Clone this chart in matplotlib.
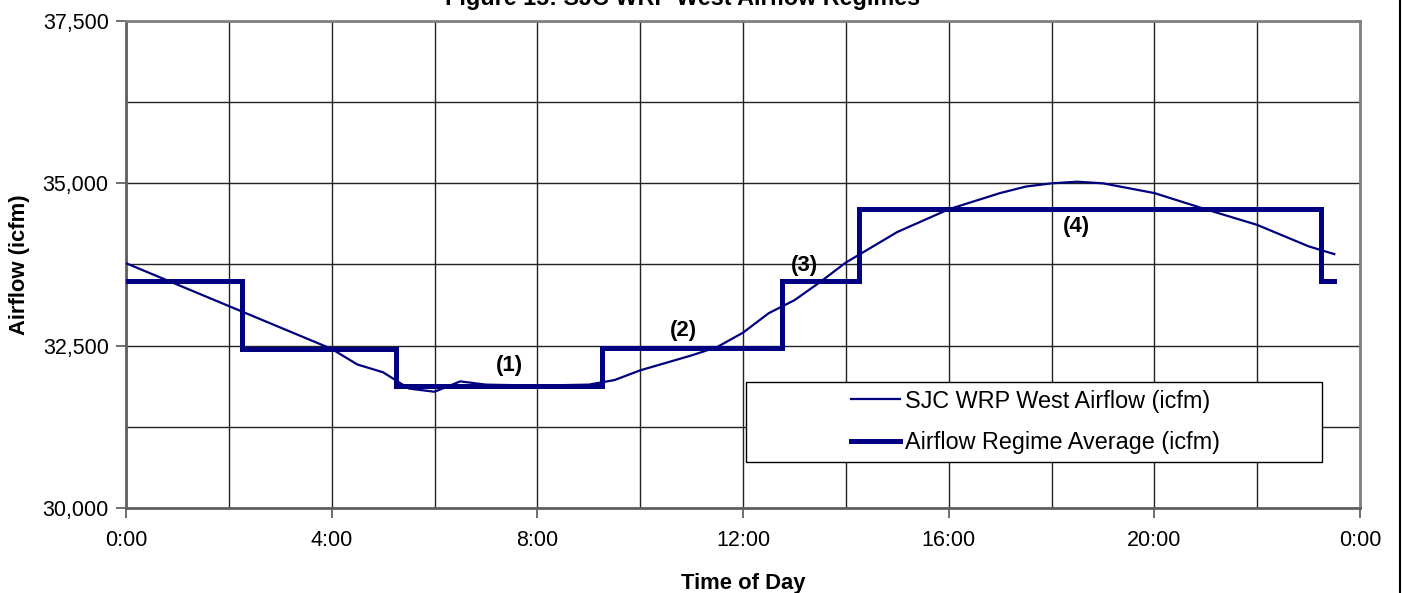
import numpy as np
import matplotlib
matplotlib.use("Agg")
import matplotlib.pyplot as plt
from matplotlib.ticker import MultipleLocator, FuncFormatter
from matplotlib.patches import Rectangle
from matplotlib.lines import Line2D

plt.rcParams['font.family'] = ['Liberation Sans', 'DejaVu Sans']

# measured airflow (hours of day, icfm)
flow_hours = [0, 1, 2, 3, 4, 4.5, 5, 5.5, 6, 6.5, 7, 8, 9, 9.5, 10, 11, 11.5, 12,
              12.5, 13, 13.5, 14, 15, 16, 17, 17.5, 18, 18.5, 19, 20, 21, 22, 23, 23.5]
flow_vals = [33770, 33440, 33110, 32780, 32450, 32210, 32090, 31840, 31790, 31950,
             31900, 31885, 31900, 31970, 32120, 32350, 32480, 32700, 33000, 33200,
             33480, 33780, 34250, 34600, 34850, 34950, 35000, 35025, 35000, 34850,
             34600, 34360, 34030, 33910]

# regime averages, step starts
regime_hours = [0, 2.25, 5.25, 9.25, 12.75, 14.25, 23.25, 23.5]
regime_vals = [33500, 32450, 31880, 32460, 33500, 34600, 33500, 33500]

# regime labels
label_text = ["(1)", "(2)", "(3)", "(4)"]
label_hours = [7.46, 10.84, 13.2, 18.49]
label_vals = [32190, 32740, 33740, 34340]

navy = '#000080'

fig = plt.figure(figsize=(14.02, 5.93), dpi=100)
ax = fig.add_axes([126 / 1402, 1 - 508 / 593, 1234 / 1402, 487 / 593])

ax.plot(flow_hours, flow_vals, color=navy, lw=1.6, label="SJC WRP West Airflow (icfm)", zorder=3)
ax.step(regime_hours, regime_vals, where='post', color=navy, lw=3.6,
        solid_joinstyle='miter', label="Airflow Regime Average (icfm)", zorder=4)

for t, h, v in zip(label_text, label_hours, label_vals):
    ax.text(h, v, t, ha='center', va='center', fontsize=16, fontweight='bold', zorder=5)

ax.set_xlim(0, 24)
ax.set_ylim(30000, 37500)
ax.xaxis.set_major_locator(MultipleLocator(4))
ax.xaxis.set_minor_locator(MultipleLocator(2))
ax.yaxis.set_major_locator(MultipleLocator(2500))
ax.yaxis.set_minor_locator(MultipleLocator(1250))
ax.xaxis.set_major_formatter(FuncFormatter(lambda h, p: f"{int(round(h)) % 24}:00"))
ax.yaxis.set_major_formatter(FuncFormatter(lambda v, p: f"{int(v):,}"))
ax.tick_params(which='major', direction='out', length=7, width=1.2, color='#555555',
               labelsize=15.5)
ax.tick_params(axis='x', which='major', pad=9)
ax.tick_params(axis='y', which='major', pad=5.5)
ax.tick_params(which='minor', length=0)
ax.grid(which='both', color='#222222', lw=1.0, zorder=1)
ax.set_axisbelow(True)
for s in ax.spines.values():
    s.set_color('#808080')
    s.set_linewidth(2)
ax.spines['left'].set_color('#606060')
ax.spines['bottom'].set_color('#606060')

ax.set_xlabel("Time of Day", fontsize=15.8, fontweight='bold', labelpad=16)
ax.set_ylabel("Airflow (icfm)", fontsize=15.8, fontweight='bold', labelpad=9)

# legend box
ax.add_patch(Rectangle((0.5024, 0.0945), 0.4668, 0.1642, transform=ax.transAxes,
                       facecolor='white', edgecolor='black', lw=1.0, zorder=6))
leg = ax.legend(loc='center left', bbox_to_anchor=(0.5875, 0.1766), frameon=False,
                fontsize=16.8, handlelength=2.1, handletextpad=0.2, labelspacing=0.8,
                borderaxespad=0, borderpad=0)
leg.set_zorder(7)

fig.text(683 / 1402, 1 - 5 / 593, "Figure 15: SJC WRP West Airflow Regimes",
         ha='center', va='baseline', fontsize=16.8, fontweight='bold')

# page border on the right
fig.add_artist(Line2D([1400 / 1402, 1400 / 1402], [0, 1], color='black', lw=1.5,
                      transform=fig.transFigure))

fig.savefig("out.png", dpi=100)
